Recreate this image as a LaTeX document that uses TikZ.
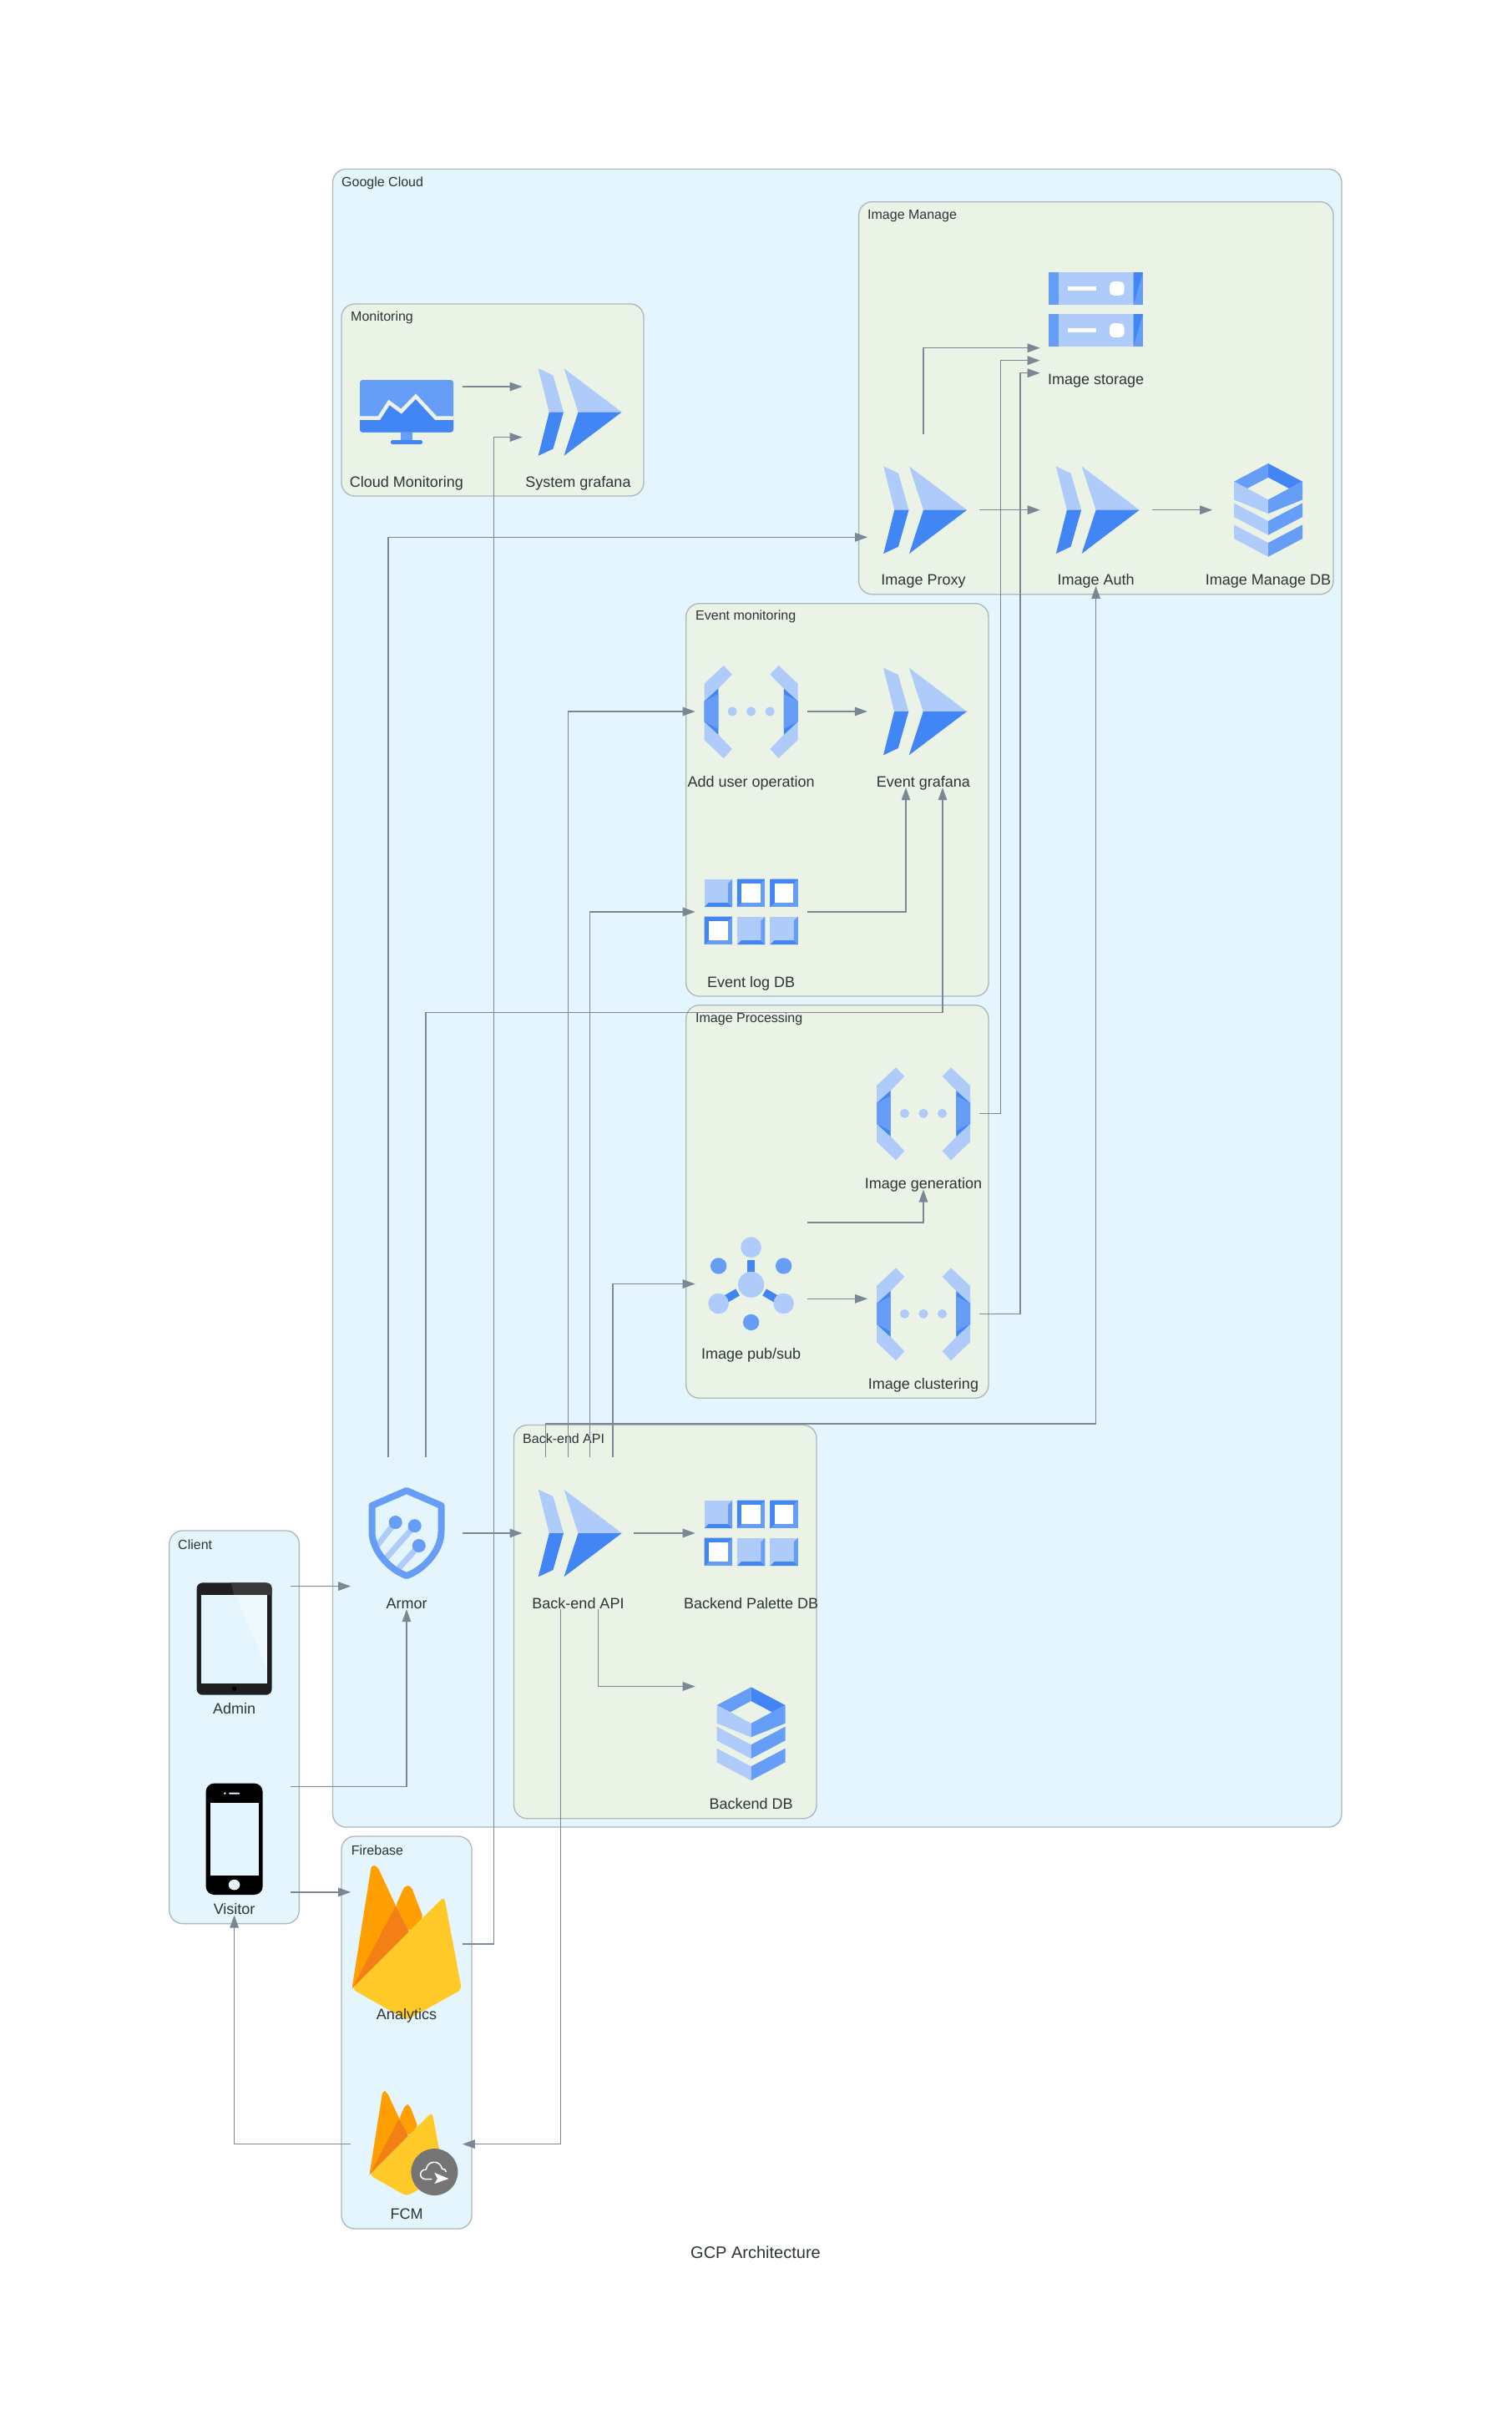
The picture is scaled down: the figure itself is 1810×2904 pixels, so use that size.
\documentclass[tikz,border=0pt]{standalone}
\usepackage{fontspec}
\setmainfont{Liberation Sans}
\usetikzlibrary{arrows.meta}

\definecolor{gcloudbg}{HTML}{E5F5FD}
\definecolor{groupbg}{HTML}{EBF3E7}
\definecolor{clusline}{HTML}{AEB6BE}
\definecolor{edgecol}{HTML}{7B8794}
\definecolor{txtcol}{HTML}{2D3436}
\definecolor{gcplight}{HTML}{AECBFA}
\definecolor{gcpmid}{HTML}{669DF6}
\definecolor{gcpdark}{HTML}{4285F4}
\definecolor{fbamber}{HTML}{FFA000}
\definecolor{fbdeep}{HTML}{F57F17}
\definecolor{fbyellow}{HTML}{FFCA28}

\tikzset{
	clus/.style={draw=clusline, line width=1.33, rounded corners=16pt},
	clustxt/.style={anchor=west, inner sep=0pt, yshift=-1.5pt, text=txtcol, font=\fontsize{16}{18}\selectfont},
	svc/.style={minimum width=133.4, minimum height=182, inner sep=0pt},
	svctxt/.style={inner sep=0pt, yshift=5.5pt, text=txtcol, text height=12.5pt, text depth=3.5pt, font=\fontsize{18}{20}\selectfont},
	conn/.style={draw=edgecol, line width=1.33, -{Triangle[length=15pt,width=10.5pt]}},
	grafanaicon/.pic={
		\fill[gcplight] (-47.8,-52.3) -- (-30,-44) -- (-17.5,0) -- (-34.7,0) -- cycle;
		\fill[gcpdark] (-47.8,52.3) -- (-30,44) -- (-17.5,0) -- (-34.7,0) -- cycle;
		\fill[gcplight] (-17,-52.3) -- (52.2,0) -- (0,0) -- cycle;
		\fill[gcpdark] (-17,52.3) -- (52.2,0) -- (0,0) -- cycle;
	},
	funcicon/.pic={
		\foreach \sd in {1,-1}{
			\begin{scope}[xscale=\sd]
				\fill[gcplight] (-56,-33.3) -- (-33,-55) -- (-22.7,-44.3) -- (-39.3,-27.3) -- (-39.3,27.7) -- (-22.7,45) -- (-33,56) -- (-56,34) -- cycle;
				\fill[gcpdark] (-56,-12.3) -- (-39.3,-27.3) -- (-39.3,27.7) -- (-56,12.3) -- cycle;
				\fill[gcpmid] (-56,-12.3) -- (-39.3,-21) -- (-39.3,21) -- (-56,12.3) -- cycle;
			\end{scope}
		}
		\foreach \qx in {-22.5,0,22.5}{\fill[gcplight] (\qx,0) circle (5.6);}
	},
	gridicon/.pic={
		\foreach \qx/\qy in {-56/-39.3,-16.7/5.7,22.7/5.7}{
			\fill[gcplight] (\qx,\qy) rectangle ++(33.5,33.5);
			\fill[gcpmid] (\qx+33.5,\qy) -- ++(0,33.5) -- ++(-5,-5) -- ++(0,-23.5) -- cycle;
			\fill[gcpdark] (\qx,\qy+33.5) -- ++(33.5,0) -- ++(-5,-5) -- ++(-23.5,0) -- cycle;
		}
		\foreach \qx/\qy in {-16.7/-39.3,22.7/-39.3,-56/5.7}{
			\fill[gcpmid] (\qx,\qy) rectangle ++(33.5,33.5);
			\fill[gcpdark] (\qx,\qy) -- ++(33.5,0) -- ++(-5.5,5.5) -- ++(-22.5,0) -- ++(0,22.5) -- ++(-5.5,5.5) -- cycle;
			\fill[white] (\qx+5.5,\qy+5.5) rectangle ++(22.5,22.5);
		}
	},
	layericon/.pic={
		\fill[gcpmid] (-41,-34) -- (0,-55.7) -- (0,-39) -- (-25,-25.7) -- cycle;
		\fill[gcpdark] (41,-34) -- (0,-55.7) -- (0,-39) -- (25,-25.7) -- cycle;
		\fill[gcplight] (-41,-34) -- (-25,-25.7) -- (0,-12.3) -- (0,4.3) -- (-41,-12.3) -- cycle;
		\fill[gcpmid] (41,-34) -- (25,-25.7) -- (0,-12.3) -- (0,4.3) -- (41,-12.3) -- cycle;
		\foreach \qy in {13.3,39.3}{
			\fill[gcplight] (-41,\qy-21.6) -- (0,\qy) -- (0,\qy+16.7) -- (-41,\qy-5) -- cycle;
			\fill[gcpmid] (41,\qy-21.6) -- (0,\qy) -- (0,\qy+16.7) -- (41,\qy-5) -- cycle;
		}
	},
	storageicon/.pic={
		\foreach \qy in {-44.7,5.3}{
			\fill[gcplight] (-56.3,\qy) rectangle ++(112.6,39);
			\fill[gcpmid] (-56.3,\qy) rectangle ++(12,39);
			\fill[gcpmid] (45,\qy) rectangle ++(11.3,39);
			\fill[gcpdark] (45,\qy) -- (56.3,\qy) -- (45,\qy+39) -- cycle;
			\fill[white] (-33.5,\qy+16.6) rectangle ++(33.5,5.8);
			\fill[white, rounded corners=5pt] (16.4,\qy+11.2) rectangle ++(17.5,16.7);
		}
	},
	monitoricon/.pic={
		\fill[gcpmid] (-6.7,24) rectangle (6.7,34);
		\fill[gcpdark, rounded corners=1.5pt] (-19,33.7) rectangle (19,38.4);
		\fill[gcpmid, rounded corners=3pt] (-56,-38.4) rectangle (56,24);
		\begin{scope}
			\clip[rounded corners=3pt] (-56,-38.4) rectangle (56,24);
			\fill[gcpdark] (-56,7) -- (-33,7) -- (-21,-11.6) -- (-6.4,-0.9) -- (11,-18.8) -- (35,7) -- (56,7) -- (56,24) -- (-56,24) -- cycle;
			\draw[groupbg, line width=4.5] (-57,7) -- (-33,7) -- (-21,-11.6) -- (-6.4,-0.9) -- (11,-18.8) -- (35,7) -- (57,7);
		\end{scope}
	},
	shieldicon/.pic={
		\begin{scope}
			\clip (0,-51) -- (41.5,-33) -- (41.5,-2) .. controls (41.5,20) and (22,43) .. (0,51) .. controls (-22,43) and (-41.5,20) .. (-41.5,-2) -- (-41.5,-33) -- cycle;
			\draw[gcplight, line width=7] (-13.3,-13) -- (-37,17);
			\draw[gcplight, line width=7] (9.7,-8.8) -- (-30,36);
			\draw[gcplight, line width=7] (14.8,15) -- (-14,47);
		\end{scope}
		\draw[gcpmid, line width=8, line join=round] (0,-51) -- (41.5,-33) -- (41.5,-2) .. controls (41.5,20) and (22,43) .. (0,51) .. controls (-22,43) and (-41.5,20) .. (-41.5,-2) -- (-41.5,-33) -- cycle;
		\fill[gcpmid] (-13.3,-13) circle (8) (9.7,-8.8) circle (8) (14.8,15) circle (8);
	},
	pubsubicon/.pic={
		\draw[gcpdark, line width=9.3] (0,-29) -- (0,-14);
		\draw[gcpdark, line width=9.3] (-30,18) -- (-16,10);
		\draw[gcpdark, line width=9.3] (30,18) -- (16,10);
		\fill[gcplight] (0,0.8) circle (15.5) (0,-43.8) circle (12.3) (-39,23.5) circle (12.3) (39,23.5) circle (12.3);
		\fill[gcpmid] (-39,-21.5) circle (9.7) (39,-21.5) circle (9.7) (0,46) circle (9.7);
	},
	tableticon/.pic={
		\fill[black!88, rounded corners=7pt] (-45,-67.3) rectangle (45,67);
		\fill[black!78] (-4,-67.3) -- (38,-67.3) .. controls (42,-67.3) and (45,-65) .. (45,-61) -- (45,-52.4) -- (0,-52.4) -- cycle;
		\fill[gcloudbg] (-39.3,-52.4) rectangle (39.3,53);
		\fill[white, opacity=.35] (2,-52.4) -- (39.3,-52.4) -- (39.3,36) -- cycle;
		\fill[black] (0,59.5) circle (2.8);
	},
	phoneicon/.pic={
		\fill[black, rounded corners=10pt] (-34,-66.7) rectangle (34,66.7);
		\fill[gcloudbg] (-29,-43) rectangle (29,43.7);
		\fill[gcloudbg] (0,54.8) circle [x radius=6.8, y radius=6.3];
		\fill[gcloudbg, rounded corners=1pt] (-6.6,-55.8) rectangle (6.5,-53.6);
		\fill[gcloudbg] (-11.3,-54.7) circle (1.4);
	},
	firebaseicon/.pic={
		\fill[fbamber, rounded corners=4pt] (-65.6,53.8) -- (-42,-95) -- (-35,-93) -- (-13,-46) -- (3,-14.6) -- cycle;
		\fill[fbamber, rounded corners=4pt] (-13,-46) -- (-2,-70) -- (5,-70) -- (20,-31.6) -- (3,-14.6) -- cycle;
		\fill[fbdeep] (-65.6,53.8) -- (-13,-46) -- (3,-14.6) -- cycle;
		\fill[fbyellow, rounded corners=5pt] (-65.6,53.8) -- (45,-57) -- (66,54.6) -- (0,91) -- cycle;
	},
	fcmbadge/.pic={
		\fill[black!54] (0,0) circle (28);
		\draw[white, line width=1.5] (-3,8.7) -- (-10,8.7) .. controls (-19,8.7) and (-19,-3) .. (-10,-3) .. controls (-9,-14) and (7,-15) .. (9,-4) .. controls (12,-4) and (14,-2) .. (14,0);
		\fill[white] (0,0.8) -- (17,8) -- (0,14) -- (3.6,8) -- cycle;
	}
}

\begin{document}
\begin{tikzpicture}[x=1pt, y=-1pt]
	\useasboundingbox (0,0) rectangle (1810,2904);
	
	% Clusters
	\fill[white] (0,0) rectangle (1810,2904);
	\draw[clus, fill=gcloudbg] (398.5,202.5) rectangle (1607,2188);
	\draw[clus, fill=groupbg] (409,364) rectangle (771,594);
	\draw[clus, fill=groupbg] (1028.6,241.7) rectangle (1597,711.7);
	\draw[clus, fill=groupbg] (821.7,722.7) rectangle (1184,1193);
	\draw[clus, fill=groupbg] (821.7,1203.7) rectangle (1184,1674.3);
	\draw[clus, fill=groupbg] (615.5,1706.5) rectangle (978,2177.7);
	\draw[clus, fill=gcloudbg] (202.8,1833) rectangle (358.4,2303.6);
	\draw[clus, fill=gcloudbg] (409,2199) rectangle (565,2669);
	
	\node[clustxt] (gcloudlbl) at (409,217.5) {Google Cloud};
	\node[clustxt] (monitorlbl) at (420,379) {Monitoring};
	\node[clustxt] (managelbl) at (1039,256.7) {Image Manage};
	\node[clustxt] (eventlbl) at (833,737.3) {Event monitoring};
	\node[clustxt] (processlbl) at (833,1219.3) {Image Processing};
	\node[clustxt] (backendlbl) at (626,1721.4) {Back-end API};
	\node[clustxt] (clientlbl) at (213,1848.6) {Client};
	\node[clustxt] (firebaselbl) at (420.6,2213.8) {Firebase};
	
	% Monitoring
	\pic at (487,493.5) {monitoricon};
	\node[svc] (cloudmon) at (487,493.5) {};
	\node[svctxt] (cloudmonlbl) at (cloudmon.south) {Cloud Monitoring};
	\pic at (692.5,493.5) {grafanaicon};
	\node[svc] (sysgraf) at (692.5,493.5) {};
	\node[svctxt] (sysgraflbl) at (sysgraf.south) {System grafana};
	
	% Image Manage
	\pic at (1312.6,370.7) {storageicon};
	\node[svc] (storage) at (1312.6,370.7) {};
	\node[svctxt] (storagelbl) at (storage.south) {Image storage};
	\pic at (1106,610.7) {grafanaicon};
	\node[svc] (proxy) at (1106,610.7) {};
	\node[svctxt] (proxylbl) at (proxy.south) {Image Proxy};
	\pic at (1312.6,610.7) {grafanaicon};
	\node[svc] (auth) at (1312.6,610.7) {};
	\node[svctxt] (authlbl) at (auth.south) {Image Auth};
	\pic at (1519,610.7) {layericon};
	\node[svc] (managedb) at (1519,610.7) {};
	\node[svctxt] (managedblbl) at (managedb.south) {Image Manage DB};
	
	% Event monitoring
	\pic at (899.6,852) {funcicon};
	\node[svc] (adduser) at (899.6,852) {};
	\node[svctxt] (adduserlbl) at (adduser.south) {Add user operation};
	\pic at (1105.8,852) {grafanaicon};
	\node[svc] (eventgraf) at (1105.8,852) {};
	\node[svctxt] (eventgraflbl) at (eventgraf.south) {Event grafana};
	\pic at (899.6,1092) {gridicon};
	\node[svc] (eventdb) at (899.6,1092) {};
	\node[svctxt] (eventdblbl) at (eventdb.south) {Event log DB};
	
	% Image Processing
	\pic at (1106,1333.3) {funcicon};
	\node[svc] (imggen) at (1106,1333.3) {};
	\node[svctxt] (imggenlbl) at (imggen.south) {Image generation};
	\pic at (899.6,1537.5) {pubsubicon};
	\node[svc] (pubsub) at (899.6,1537.5) {};
	\node[svctxt] (pubsublbl) at (pubsub.south) {Image pub/sub};
	\pic at (1106,1573.3) {funcicon};
	\node[svc] (imgclust) at (1106,1573.3) {};
	\node[svctxt] (imgclustlbl) at (imgclust.south) {Image clustering};
	
	% Back-end API
	\pic at (487,1836) {shieldicon};
	\node[svc] (armor) at (487,1836) {};
	\node[svctxt] (armorlbl) at (armor.south) {Armor};
	\pic at (692.5,1836) {grafanaicon};
	\node[svc] (api) at (692.5,1836) {};
	\node[svctxt] (apilbl) at (api.south) {Back-end API};
	\pic at (899.6,1836) {gridicon};
	\node[svc] (palette) at (899.6,1836) {};
	\node[svctxt] (palettelbl) at (palette.south) {Backend Palette DB};
	\pic at (899.6,2076) {layericon};
	\node[svc] (backdb) at (899.6,2076) {};
	\node[svctxt] (backdblbl) at (backdb.south) {Backend DB};
	
	% Client and Firebase
	\pic at (280.6,1962.7) {tableticon};
	\node[svc] (admin) at (280.6,1962.7) {};
	\node[svctxt] (adminlbl) at (admin.south) {Admin};
	\pic at (280.6,2202.3) {phoneicon};
	\node[svc] (visitor) at (280.6,2202.3) {};
	\node[svctxt] (visitorlbl) at (visitor.south) {Visitor};
	\pic at (487,2328) {firebaseicon};
	\node[svc] (analytics) at (487,2328) {};
	\node[svctxt] (analyticslbl) at (analytics.south) {Analytics};
	\pic[scale=.68] at (487,2568) {firebaseicon};
	\pic at (520.4,2601) {fcmbadge};
	\node[svc] (fcm) at (487,2567.6) {};
	\node[svctxt] (fcmlbl) at (fcm.south) {FCM};
	
	\node[text=txtcol, font=\fontsize{20}{24}\selectfont] (title) at (905,2697) {GCP Architecture};
	
	% Connectors
	\draw[conn] (cloudmon.east |- 0,463) -- (sysgraf.west |- 0,463);
	\draw[conn] (analytics.east) -| (591.8,523.6) -- (sysgraf.west |- 0,523.6);
	\draw[conn] (admin.east |- 0,1899.6) -- (armor.west |- 0,1899.6);
	\draw[conn] (visitor.east |- 0,2139.4) -| (armor.south);
	\draw[conn] (visitor.east |- 0,2265.9) -- (analytics.west |- 0,2265.9);
	\draw[conn] (fcm.west) -| (visitor.south);
	\draw[conn] (armor.east) -- (api.west);
	\draw[conn] (armor.north -| 465,0) |- (proxy.west |- 0,643.3);
	\draw[conn] (armor.north -| 510,0) |- (1129,1212.7) -- (eventgraf.south -| 1129,0);
	\draw[conn] (api.east) -- (palette.west);
	\draw[conn] (api.south -| 716.5,0) |- (backdb.west |- 0,2019.5);
	\draw[conn] (api.south -| 671.5,0) |- (fcm.east);
	\draw[conn] (api.north -| 653.8,0) |- (1312.6,1705) -- (auth.south);
	\draw[conn] (api.north -| 680.3,0) |- (adduser.west);
	\draw[conn] (api.north -| 706.8,0) |- (eventdb.west);
	\draw[conn] (api.north -| 734,0) |- (pubsub.west);
	\draw[conn] (proxy.north) |- (storage.west |- 0,416.7);
	\draw[conn] (proxy.east) -- (auth.west);
	\draw[conn] (auth.east) -- (managedb.west);
	\draw[conn] (adduser.east) -- (eventgraf.west);
	\draw[conn] (eventdb.east) -| (eventgraf.south -| 1085,0);
	\draw[conn] (pubsub.east |- 0,1464) -| (imggen.south);
	\draw[conn] (pubsub.east |- 0,1555.3) -- (imgclust.west |- 0,1555.3);
	\draw[conn] (imggen.east) -| (1198.3,431.7) -- (storage.west |- 0,431.7);
	\draw[conn] (imgclust.east) -| (1222,446.7) -- (storage.west |- 0,446.7);
\end{tikzpicture}
\end{document}
